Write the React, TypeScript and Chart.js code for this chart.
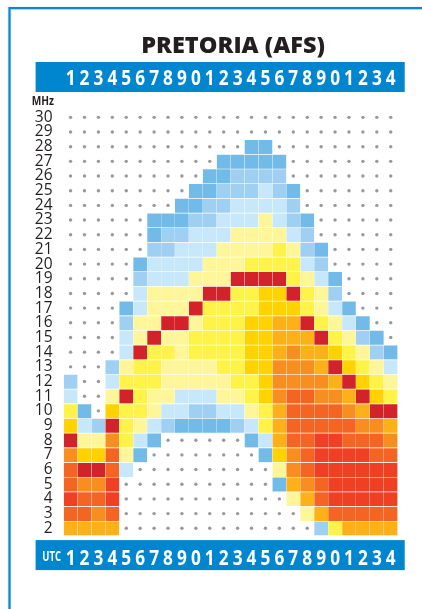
import React, { useEffect, useRef } from "react";
import { Chart, registerables } from "chart.js";

Chart.register(...registerables);

const chartTitle = "PRETORIA (AFS)";
const utcHours = ["1","2","3","4","5","6","7","8","9","0","1","2","3","4","5","6","7","8","9","0","1","2","3","4"];
const mhzTicks = [30,29,28,27,26,25,24,23,22,21,20,19,18,17,16,15,14,13,12,11,10,9,8,7,6,5,4,3,2];

// Reliability class per UTC hour (0 = no propagation: dot only)
const mhz30 = [0,0,0,0,0,0,0,0,0,0,0,0,0,0,0,0,0,0,0,0,0,0,0,0];
const mhz29 = [0,0,0,0,0,0,0,0,0,0,0,0,0,0,0,0,0,0,0,0,0,0,0,0];
const mhz28 = [0,0,0,0,0,0,0,0,0,0,0,0,0,1,1,0,0,0,0,0,0,0,0,0];
const mhz27 = [0,0,0,0,0,0,0,0,0,0,0,1,1,1,1,1,0,0,0,0,0,0,0,0];
const mhz26 = [0,0,0,0,0,0,0,0,0,0,1,1,2,2,2,2,0,0,0,0,0,0,0,0];
const mhz25 = [0,0,0,0,0,0,0,0,0,1,1,2,2,2,3,2,1,0,0,0,0,0,0,0];
const mhz24 = [0,0,0,0,0,0,0,0,1,1,2,2,3,3,3,3,2,0,0,0,0,0,0,0];
const mhz23 = [0,0,0,0,0,0,1,1,1,2,2,3,3,3,4,3,2,1,0,0,0,0,0,0];
const mhz22 = [0,0,0,0,0,0,1,2,2,3,3,3,4,4,4,4,3,2,0,0,0,0,0,0];
const mhz21 = [0,0,0,0,0,0,2,2,3,3,3,4,4,4,4,5,4,2,1,0,0,0,0,0];
const mhz20 = [0,0,0,0,0,1,3,3,3,3,4,4,4,5,5,5,5,3,2,0,0,0,0,0];
const mhz19 = [0,0,0,0,0,2,3,3,3,4,4,4,11,11,11,11,5,4,3,1,0,0,0,0];
const mhz18 = [0,0,0,0,0,3,4,4,4,4,11,11,5,5,6,6,11,5,4,2,0,0,0,0];
const mhz17 = [0,0,0,0,1,3,4,4,4,11,5,5,5,5,6,6,6,5,4,3,1,0,0,0];
const mhz16 = [0,0,0,0,2,4,4,11,11,4,5,5,5,6,6,7,7,11,5,4,3,1,0,0];
const mhz15 = [0,0,0,0,3,4,11,4,4,5,5,5,5,6,6,7,7,7,11,5,4,2,1,0];
const mhz14 = [0,0,0,0,3,11,5,5,4,5,5,5,5,6,6,7,8,7,7,6,5,4,2,1];
const mhz13 = [0,0,0,2,4,5,5,4,4,4,4,5,5,6,6,8,8,8,7,11,6,5,4,3];
const mhz12 = [2,0,0,3,5,5,5,4,4,4,4,4,5,5,6,8,8,8,8,7,11,6,5,4];
const mhz11 = [3,0,0,4,11,5,4,4,3,3,3,4,4,5,6,8,9,9,8,8,7,11,6,5];
const mhz10 = [5,1,0,6,5,5,4,3,3,2,2,3,3,4,5,7,9,9,9,9,8,7,11,11];
const mhz9 = [6,3,2,11,5,4,3,2,1,1,1,1,2,3,5,7,9,9,9,9,9,8,8,7];
const mhz8 = [11,4,4,8,5,3,1,0,0,0,0,0,0,1,3,7,9,9,10,10,9,9,9,8];
const mhz7 = [8,6,6,9,4,1,0,0,0,0,0,0,0,0,1,6,8,9,10,10,10,10,9,9];
const mhz6 = [9,11,11,9,3,0,0,0,0,0,0,0,0,0,0,4,8,9,10,10,10,10,10,10];
const mhz5 = [9,8,8,10,0,0,0,0,0,0,0,0,0,0,0,1,7,8,9,10,10,10,10,10];
const mhz4 = [10,9,9,10,0,0,0,0,0,0,0,0,0,0,0,0,4,7,9,10,10,10,10,10];
const mhz3 = [9,9,8,9,0,0,0,0,0,0,0,0,0,0,0,0,0,4,7,9,9,9,9,9];
const mhz2 = [7,7,7,7,0,0,0,0,0,0,0,0,0,0,0,0,0,0,2,5,7,7,7,7];

const rowLevels = [mhz30,mhz29,mhz28,mhz27,mhz26,mhz25,mhz24,mhz23,mhz22,mhz21,mhz20,mhz19,mhz18,mhz17,mhz16,mhz15,mhz14,mhz13,mhz12,mhz11,mhz10,mhz9,mhz8,mhz7,mhz6,mhz5,mhz4,mhz3,mhz2];

const levelColours = ["rgba(0,0,0,0)","#72BBE9","#9FD0F1","#C7E8FA","#FFF599","#FFF249","#FFD200","#FDB017","#F88E1F","#F46423","#EF4023","#D2232A"];

const BLUE = "#0085CF";
const INK = "#231F20";
const HOUR_FONT_SIZE = 21;
const HOUR_SQUEEZE = 0.82;

function squeezedText(ctx: any, text: string, rightX: number, midY: number, font: string, squeeze: number) {
  ctx.save();
  ctx.textBaseline = "middle";
  ctx.textAlign = "right";
  ctx.font = font;
  ctx.translate(rightX, midY);
  ctx.scale(squeeze, 1);
  ctx.fillText(text, 0, 0);
  ctx.restore();
}

const chromePlugin = {
  id: "chrome",
  beforeDraw(chart: any) {
    const { ctx, chartArea } = chart;
    const { left, right, top, bottom } = chartArea;
    ctx.save();
    ctx.strokeStyle = "#A9DAF3";
    ctx.lineWidth = 3.4;
    ctx.beginPath();
    ctx.moveTo(9.5, 609);
    ctx.lineTo(9.5, 8.4);
    ctx.lineTo(422, 8.4);
    ctx.stroke();
    ctx.strokeStyle = "#0C87CE";
    ctx.lineWidth = 2;
    ctx.beginPath();
    ctx.moveTo(9.5, 609);
    ctx.lineTo(9.5, 8);
    ctx.lineTo(422, 8);
    ctx.stroke();
    ctx.fillStyle = BLUE;
    const bandL = left - 28;
    const bandW = right + 7 - bandL;
    ctx.fillRect(bandL, top - 48, bandW, 30);
    ctx.fillRect(bandL, bottom + 4.5, bandW, 30);
    ctx.restore();
    // The hour digits are a condensed face in the reference: narrow them as they are drawn.
    if (!ctx.__squeezed) {
      ctx.__squeezed = true;
      const fill = ctx.fillText.bind(ctx);
      ctx.fillText = (text: string, x: number, y: number) => {
        if (ctx.font.includes(`${HOUR_FONT_SIZE}px`)) {
          ctx.save();
          ctx.translate(x, y);
          ctx.scale(HOUR_SQUEEZE, 1);
          fill(text, 0, 0);
          ctx.restore();
        } else {
          fill(text, x, y);
        }
      };
    }
  },
  afterLayout(chart: any) {
    chart.titleBlock.left += 2.4;
    chart.titleBlock.right += 2.4;
  },
  afterDraw(chart: any) {
    const { ctx, chartArea } = chart;
    ctx.fillStyle = INK;
    squeezedText(ctx, "MHz", 54, chartArea.top - 9, 'bold 13px "Open Sans"', 0.78);
    ctx.fillStyle = "#FFFFFF";
    squeezedText(ctx, "UTC", 61, chartArea.bottom + 21, 'bold 14px "Open Sans"', 0.68);
  },
};

export default function App() {
  const ref = useRef<HTMLCanvasElement>(null);
  useEffect(() => {
    const bars = rowLevels.map((levels, r) => ({
      type: "bar" as const,
      label: `${mhzTicks[r]} MHz`,
      data: levels.map((l) => (l > 0 ? [mhzTicks[r] - 0.5, mhzTicks[r] + 0.5] : null)),
      backgroundColor: levels.map((l) => levelColours[l]),
      borderColor: "#FFFFFF",
      borderWidth: { top: 1, left: 0, right: 0, bottom: 0 },
      borderSkipped: false,
      grouped: false,
      barPercentage: 1,
      categoryPercentage: 1,
      order: 2,
    }));
    const dots = rowLevels.map((levels, r) => ({
      type: "line" as const,
      label: `${mhzTicks[r]} MHz none`,
      data: levels.map((l) => (l === 0 ? mhzTicks[r] : null)),
      showLine: false,
      pointRadius: 1.7,
      pointBackgroundColor: "#999999",
      pointBorderWidth: 0,
      order: 1,
    }));
    const hourAxis = (position: string, height: number, padding: number) => ({
      type: "category",
      position,
      offset: true,
      labels: utcHours,
      border: { display: false },
      grid: { color: "rgba(255,255,255,0.2)", drawTicks: false, z: 1, offset: true },
      ticks: {
        color: "#FFFFFF",
        font: { family: '"Open Sans"', weight: "bold", size: HOUR_FONT_SIZE },
        autoSkip: false,
        maxRotation: 0,
        padding,
      },
      afterFit(axis: any) {
        axis.height = height;
      },
    });
    const chart = new Chart(ref.current!, {
      type: "bar",
      data: { labels: utcHours, datasets: [...bars, ...dots] as any },
      plugins: [chromePlugin],
      options: {
        animation: false,
        responsive: false,
        layout: { padding: { right: 24.3 } },
        scales: {
          x: hourAxis("bottom", 73.4, 10.5),
          x2: { ...hourAxis("top", 51.5, 18), grid: { display: false, drawTicks: false } },
          y: {
            type: "linear",
            min: 1.5,
            max: 30.5,
            border: { display: false },
            grid: { display: false, drawTicks: false },
            ticks: {
              color: INK,
              font: { family: '"Open Sans"', size: 15.5 },
              padding: 11,
              autoSkip: false,
              callback: (v: any) => String(v),
            },
            afterBuildTicks(axis: any) {
              axis.ticks = mhzTicks.map((value) => ({ value }));
            },
            afterFit(axis: any) {
              axis.width = 63.6;
            },
          },
        } as any,
        plugins: {
          legend: { display: false },
          tooltip: { enabled: false },
          title: {
            display: true,
            text: chartTitle,
            color: INK,
            fullSize: false,
            font: { family: '"Open Sans"', weight: "800", size: 23.5, lineHeight: 1 },
            padding: { top: 35, bottom: 0 },
          },
        },
      } as any,
    });
    return () => chart.destroy();
  }, []);
  return (
    <div style={{ position: "fixed", left: 0, top: 0, width: 422, height: 609, background: "#fff" }}>
      <canvas ref={ref} width={422} height={609} style={{ display: "block" }} />
    </div>
  );
}
